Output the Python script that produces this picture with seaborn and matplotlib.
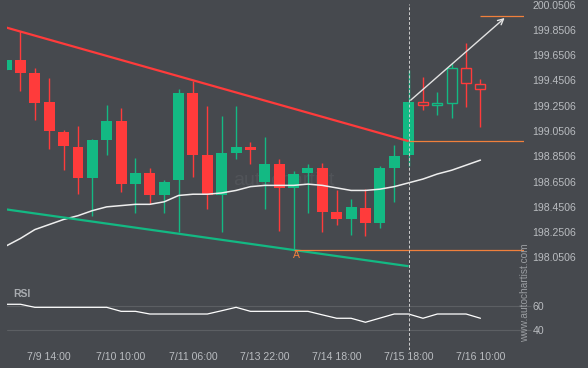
import matplotlib
matplotlib.use("Agg")
import matplotlib.pyplot as plt
import numpy as np
import seaborn as sns

# candles (last five are the forecast period, drawn hollow)
opens = [199.53, 199.61, 199.51, 199.28, 199.04, 198.92, 198.68, 198.98, 199.13, 198.63,
         198.72, 198.54, 198.66, 199.35, 198.86, 198.54, 198.88, 198.92, 198.65, 198.79,
         198.60, 198.72, 198.76, 198.41, 198.35, 198.44, 198.32, 198.76, 198.86, 199.28,
         199.26, 199.27, 199.55, 199.42]
highs = [199.61, 199.84, 199.55, 199.47, 199.06, 199.09, 198.99, 199.26, 199.23, 198.84,
         198.76, 198.66, 199.38, 199.45, 199.25, 199.17, 199.25, 198.96, 199.00, 198.83,
         198.73, 198.79, 198.80, 198.58, 198.51, 198.59, 198.77, 198.94, 199.53, 199.48,
         199.36, 199.59, 199.75, 199.46]
lows = [199.53, 199.37, 199.14, 198.91, 198.74, 198.55, 198.38, 198.86, 198.57, 198.40,
        198.47, 198.40, 198.25, 198.69, 198.43, 198.25, 198.83, 198.79, 198.43, 198.26,
        198.11, 198.40, 198.25, 198.31, 198.23, 198.22, 198.28, 198.49, 198.77, 199.22,
        199.18, 199.15, 199.24, 199.08]
closes = [199.61, 199.51, 199.27, 199.05, 198.93, 198.68, 198.98, 199.13, 198.63, 198.72,
          198.54, 198.65, 199.35, 198.86, 198.54, 198.88, 198.92, 198.90, 198.79, 198.60,
          198.71, 198.76, 198.41, 198.35, 198.45, 198.32, 198.76, 198.85, 199.28, 199.26,
          199.27, 199.55, 199.43, 199.38]
ma_values = [198.14, 198.20, 198.27, 198.31, 198.35, 198.38, 198.42, 198.45, 198.46, 198.47,
             198.47, 198.49, 198.54, 198.55, 198.55, 198.56, 198.58, 198.61, 198.62, 198.62,
             198.62, 198.63, 198.62, 198.60, 198.58, 198.58, 198.59, 198.61, 198.64, 198.67,
             198.71, 198.74, 198.78, 198.82]
rsi_values = [61.4, 61.4, 58.9, 58.9, 58.9, 58.9, 58.9, 58.9, 55.6, 55.6,
              53.4, 53.4, 53.4, 53.4, 53.4, 56.1, 58.9, 55.6, 55.6, 55.6,
              55.6, 55.6, 52.7, 49.9, 49.9, 46.6, 50.0, 53.4, 53.4, 49.9,
              53.4, 53.4, 53.4, 49.9]

tick_pos = [3, 8, 13, 18, 23, 28, 33]
tick_labels = ['7/9 14:00', '7/10 10:00', '7/11 06:00', '7/13 22:00',
               '7/14 18:00', '7/15 18:00', '7/16 10:00']
price_ticks = [198.0506, 198.2506, 198.4506, 198.6506, 198.8506, 199.0506,
               199.2506, 199.4506, 199.6506, 199.8506, 200.0506]

res_x = [0, 28]
res_y = [199.87, 198.97]
sup_x = [0, 28]
sup_y = [198.43, 197.98]
support_level = 198.11   # point A
breakout_level = 198.97
target_level = 199.96
arrow_start = (28, 199.28)
arrow_end = (34.83, 199.96)
now_idx = 28

bg = '#46494e'
red = '#ff3b3b'
green = '#13b983'
orange = '#f0803c'
txt = '#b9bcc0'
grid = '#5c5f63'

sns.set_theme(style='dark', rc={'axes.facecolor': bg, 'figure.facecolor': bg,
                                'axes.grid': False})
plt.rcParams['font.family'] = ['Liberation Sans', 'DejaVu Sans']

fig = plt.figure(figsize=(5.88, 3.68), dpi=100)
ax = fig.add_axes([7 / 588, 1 - 282 / 368, 517 / 588, 278 / 368])
ax2 = fig.add_axes([7 / 588, 1 - 350 / 368, 517 / 588, 67 / 368])

idx = np.arange(len(opens))
w = 0.76
for i in idx:
    o, h, l, c = opens[i], highs[i], lows[i], closes[i]
    col = green if c >= o else red
    lo_b, hi_b = min(o, c), max(o, c)
    hgt = max(hi_b - lo_b, 0.012)
    if i > now_idx:
        ax.vlines(i, hi_b, h, color=col, lw=1, zorder=2)
        ax.vlines(i, l, lo_b, color=col, lw=1, zorder=2)
        ax.bar(i, hgt, bottom=lo_b, width=w - 0.07, facecolor=bg, edgecolor=col,
               linewidth=1, zorder=3)
    else:
        ax.vlines(i, l, h, color=col, lw=1, zorder=2)
        ax.bar(i, hgt, bottom=lo_b, width=w, color=col, linewidth=0, zorder=3)

sns.lineplot(x=idx, y=ma_values, ax=ax, color='#eeeeee', linewidth=1.1, zorder=4)
ax.plot(res_x, res_y, color=red, lw=1.6, zorder=5, solid_capstyle='butt')
ax.plot(sup_x, sup_y, color=green, lw=1.6, zorder=5, solid_capstyle='butt')

ax.hlines(support_level, 20, 36.03, color=orange, lw=0.9, zorder=5)
ax.hlines(breakout_level, now_idx, 36.03, color=orange, lw=0.9, zorder=5)
ax.hlines(target_level, 33, 36.03, color=orange, lw=0.9, zorder=5)
ax.text(20.2, support_level - 0.045, 'A', color=orange, fontsize=7.5,
        ha='center', va='center', zorder=6)
ax.annotate('', xy=arrow_end, xytext=arrow_start,
            arrowprops=dict(arrowstyle='->', color='#e2e2e2', lw=1, mutation_scale=10),
            zorder=6)
# faint watermark behind the candles
ax.text(19.3, 198.655, 'autochartist', color='white', alpha=0.06, fontsize=14,
        ha='center', va='center', zorder=1)

for a in (ax, ax2):
    a.axvline(now_idx, color='#cfcfcf', lw=0.7, ls=(0, (3, 2)), zorder=6)
    a.set_xlim(0.063, 36.03)
    for s in a.spines.values():
        s.set_visible(False)
    a.set_xlabel('')
    a.set_ylabel('')

ax.set_ylim(197.855, 200.056)
ax.set_yticks(price_ticks)
ax.set_yticklabels([f'{p:.4f}' for p in price_ticks])
ax.yaxis.tick_right()
ax.tick_params(axis='y', length=0, pad=5.8, labelsize=7.6, labelcolor=txt)
ax.set_xticks([])

sns.lineplot(x=idx, y=rsi_values, ax=ax2, color='white', linewidth=0.9, zorder=4)
ax2.set_ylim(23.8, 78.9)
ax2.set_yticks([40, 60])
ax2.yaxis.tick_right()
ax2.yaxis.grid(True, color=grid, lw=0.8)
ax2.tick_params(axis='y', length=5, width=0.8, color=grid, pad=1, labelsize=7.6,
                labelcolor=txt)
ax2.set_xticks(tick_pos)
ax2.set_xticklabels(tick_labels)
ax2.tick_params(axis='x', length=0, pad=1.5, labelsize=7.6, labelcolor=txt)
ax2.text(0.012, 0.84, 'RSI', transform=ax2.transAxes, color='#a9acb0',
         fontsize=7.5, fontweight='bold', ha='left', va='center')

fig.text(525 / 588, 1 - 293 / 368, 'www.autochartist.com', rotation=90,
         color='#9a9da1', fontsize=7.3, ha='center', va='center')

fig.savefig('out.png', dpi=100, facecolor=bg)
